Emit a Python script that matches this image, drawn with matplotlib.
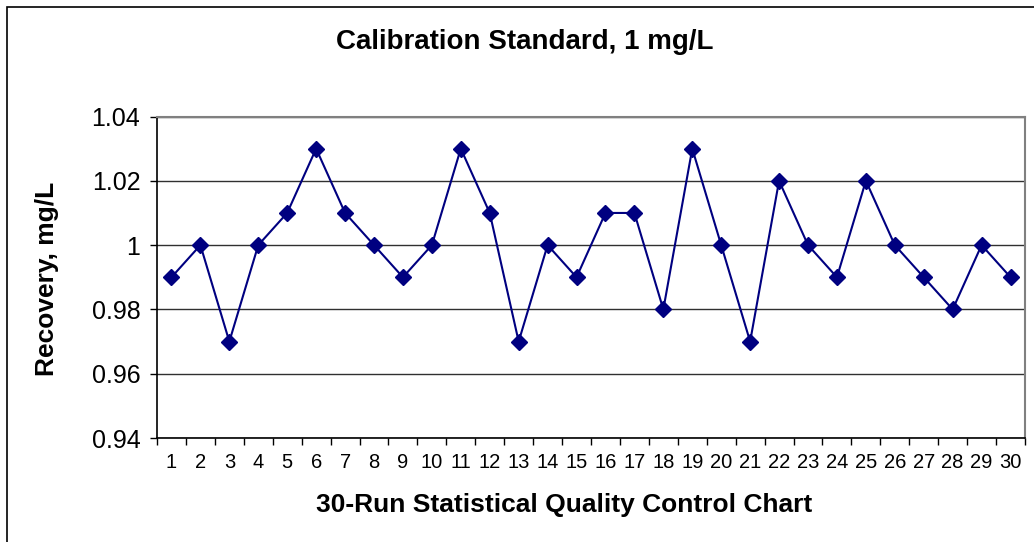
import numpy as np
import matplotlib.pyplot as plt
from matplotlib.patches import Rectangle
from matplotlib.ticker import FixedLocator

plt.rcParams['font.family'] = ['Liberation Sans', 'DejaVu Sans']

# run numbers and recovery values
runs = list(range(1, 31))
recovery = [0.99, 1.00, 0.97, 1.00, 1.01, 1.03, 1.01, 1.00, 0.99, 1.00,
            1.03, 1.01, 0.97, 1.00, 0.99, 1.01, 1.01, 0.98, 1.03, 1.00,
            0.97, 1.02, 1.00, 0.99, 1.02, 1.00, 0.99, 0.98, 1.00, 0.99]
y_ticks = [0.94, 0.96, 0.98, 1.00, 1.02, 1.04]
y_labels = ['0.94', '0.96', '0.98', '1', '1.02', '1.04']

W, H = 1034, 542
fig = plt.figure(figsize=(W / 100, H / 100), dpi=100)
ax = fig.add_axes([157 / W, 1 - 438 / H, (1025 - 157) / W, (438 - 116.5) / H])

# outer chart frame (cut off on right and bottom like the original)
fig.patches.append(Rectangle((6.5 / W, -0.1), 1.2, 1 - 6.5 / H + 0.1,
                             transform=fig.transFigure, fill=False,
                             edgecolor='black', linewidth=1.2))

ax.plot(runs, recovery, color='#000080', linewidth=1.5, marker='D',
        markersize=8, markerfacecolor='#000080', markeredgecolor='#000080')

ax.set_xlim(0.5, 30.5)
ax.set_ylim(0.94, 1.04)
ax.set_yticks(y_ticks)
ax.set_yticklabels(y_labels)
ax.set_xticks(runs)
ax.xaxis.set_minor_locator(FixedLocator(np.arange(0.5, 31, 1)))
ax.tick_params(axis='x', which='major', length=0, labelsize=14.5, pad=11)
ax.tick_params(axis='x', which='minor', length=5, width=1, color='black')
ax.tick_params(axis='y', length=5, width=1, labelsize=18, pad=7)

ax.grid(axis='y', color='#303030', linewidth=1)
ax.set_axisbelow(True)
for s in ['top', 'right']:
    ax.spines[s].set_color('#808080')
    ax.spines[s].set_linewidth(1.5)
for s in ['left', 'bottom']:
    ax.spines[s].set_color('black')
    ax.spines[s].set_linewidth(1.2)

fig.text(47 / W, 1 - 279 / H, 'Recovery, mg/L', fontsize=19,
         fontweight='bold', rotation=90, ha='center', va='center')
fig.text(564 / W, 1 - 505 / H, '30-Run Statistical Quality Control Chart',
         fontsize=19, fontweight='bold', ha='center', va='center')
fig.text(525 / W, 1 - 42 / H, 'Calibration Standard, 1 mg/L', fontsize=20,
         fontweight='bold', ha='center', va='center')

fig.savefig('out.png', dpi=100)
